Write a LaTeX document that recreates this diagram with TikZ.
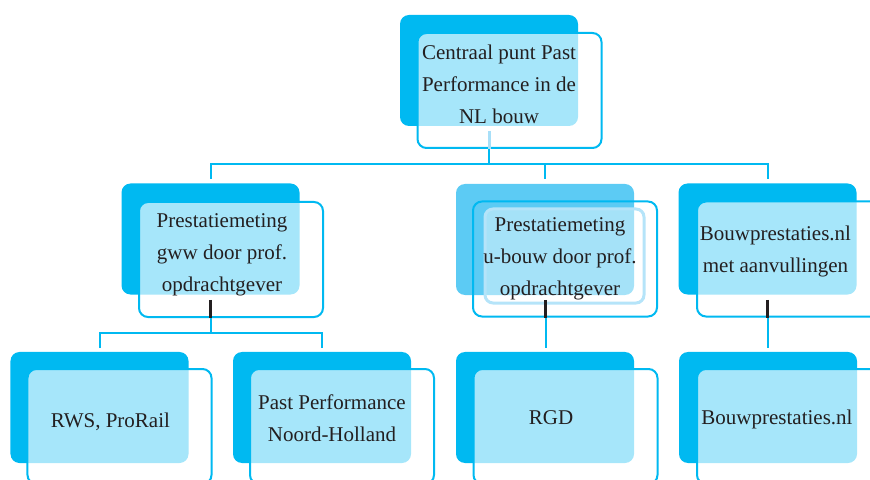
\documentclass[tikz,border=0pt]{standalone}
\usepackage{fontspec}
\setmainfont{Liberation Serif}
\definecolor{ppcyan}{HTML}{00B9F1}
\definecolor{ppmid}{HTML}{5CCBF4}
\definecolor{pplight}{HTML}{A8DFF8}
\definecolor{pptext}{HTML}{231F20}
\begin{document}
\begin{tikzpicture}[x=1bp,y=-1bp,
  backbox/.style={shape=rectangle,rounded corners=9bp,fill=ppcyan,minimum width=178bp,minimum height=111bp,inner sep=0pt},
  frontbox/.style={shape=rectangle,rounded corners=9bp,draw=ppcyan,line width=2bp,fill=white,fill opacity=0.65,minimum width=184bp,minimum height=115bp,inner sep=0pt},
  txt/.style={anchor=base,align=center,inner sep=0pt,text=pptext,font=\fontsize{21bp}{32bp}\selectfont},
  link/.style={draw=ppcyan,line width=2bp},
  stem/.style={draw=pptext,line width=3bp}]
 \clip (0,0) rectangle (870,480);
 % top level
 \node (back top) at (489,70.5) [backbox] {};
 \node (front top) at (509.5,90.5) [frontbox] {};
 \node (top) at (499,124) [txt] {Centraal punt Past\\Performance in de\\NL bouw};
 % second level
 \node (back gww) at (210.5,239) [backbox] {};
 \node (front gww) at (231,259.5) [frontbox] {};
 \node (gww) at (222,292) [txt] {Prestatiemeting\\gww door prof.\\opdrachtgever};
 \node (back ubouw) at (545,239.5) [backbox,fill=ppmid] {};
 \node (front ubouw) at (565,259) [frontbox,fill=none] {};
 \node (inner ubouw) at (564.5,256) [shape=rectangle,rounded corners=8bp,draw=pplight!85!white,line width=3bp,fill=white,fill opacity=0.45,minimum width=159bp,minimum height=94bp,inner sep=0pt] {};
 \node (ubouw) at (560,296) [txt] {Prestatiemeting\\u-bouw door prof.\\opdrachtgever};
 \node (back bp) at (767.5,239) [backbox] {};
 \node (front bp) at (789,259) [frontbox] {};
 \node (bp) at (775.5,273) [txt] {Bouwprestaties.nl\\met aanvullingen};
 % third level
 \node (back rws) at (99.5,407.5) [backbox] {};
 \node (front rws) at (119.5,426.5) [frontbox] {};
 \node (rws) at (110.5,427) [txt] {RWS, ProRail};
 \node (back nh) at (322,407.5) [backbox] {};
 \node (front nh) at (342,426.5) [frontbox] {};
 \node (nh) at (332,441) [txt] {Past Performance\\Noord-Holland};
 \node (back rgd) at (545,407.5) [backbox] {};
 \node (front rgd) at (565.5,426.5) [frontbox] {};
 \node (rgd) at (551,424) [txt] {RGD};
 \node (back bpnl) at (768,407.5) [backbox] {};
 \node (front bpnl) at (789,426.5) [frontbox] {};
 \node (bpnl) at (777,424) [txt] {Bouwprestaties.nl};
 % connectors
 \coordinate (top stem) at (489,131);
 \coordinate (bus) at (489,164);
 \coordinate (gww in) at (210.5,179);
 \coordinate (ubouw in) at (545,179);
 \coordinate (bp in) at (767.5,179);
 \draw[stem,draw=pplight] (top stem) -- (top stem |- front top.south);
 \draw[link] (top stem |- front top.south) -- (bus);
 \draw[link] (gww in) |- (bus) -| (bp in);
 \draw[link] (ubouw in) -- (ubouw in |- bus);
 \coordinate (gww stem) at (210.5,300);
 \coordinate (gww bus) at (210.5,333);
 \coordinate (rws in) at (99.5,348);
 \coordinate (nh in) at (322,348);
 \draw[stem] (gww stem) -- (gww stem |- front gww.south);
 \draw[link] (gww stem |- front gww.south) -- (gww bus);
 \draw[link] (rws in) |- (gww bus) -| (nh in);
 \coordinate (ubouw stem) at (545.5,300);
 \coordinate (rgd in) at (545.5,348);
 \draw[stem] (ubouw stem) -- (ubouw stem |- front ubouw.south);
 \draw[link] (ubouw stem |- front ubouw.south) -- (rgd in);
 \coordinate (bp stem) at (767.5,300);
 \coordinate (bpnl in) at (767.5,348);
 \draw[stem] (bp stem) -- (bp stem |- front bp.south);
 \draw[link] (bp stem |- front bp.south) -- (bpnl in);
\end{tikzpicture}
\end{document}
